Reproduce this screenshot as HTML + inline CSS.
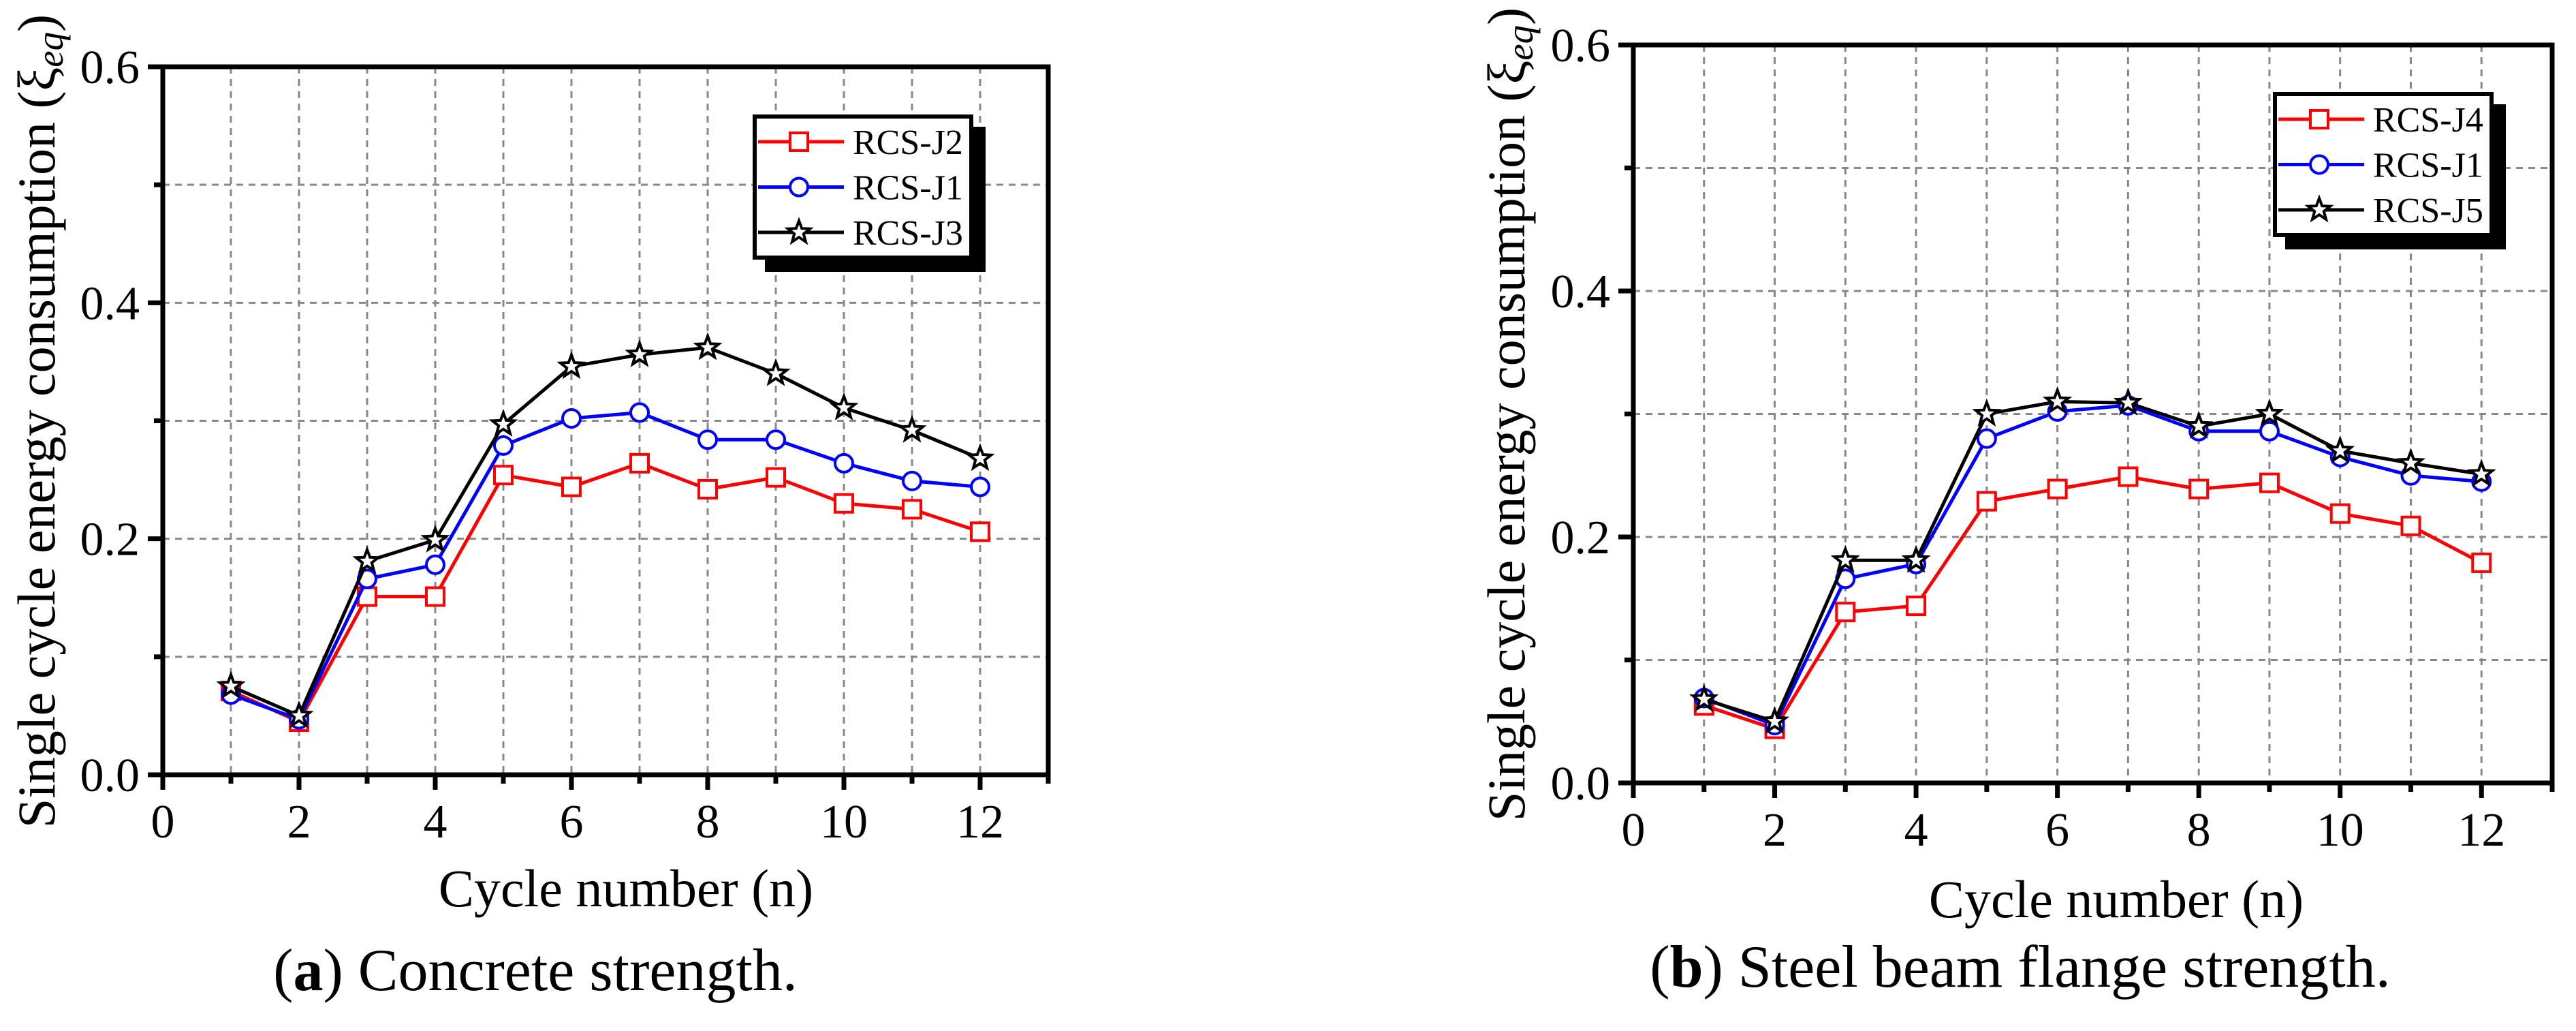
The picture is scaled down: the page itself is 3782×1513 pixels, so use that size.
<!DOCTYPE html>
<html><head><meta charset="utf-8"><style>
html,body{margin:0;padding:0;background:#fff;}
svg{display:block;}
text{font-family:"Liberation Serif",serif;fill:#000;}
</style></head>
<body>
<svg id="svg" width="3782" height="1513" viewBox="0 0 3782 1513" xmlns="http://www.w3.org/2000/svg">
<text x="786" y="1453" font-size="88" text-anchor="middle">(<tspan font-weight="bold">a</tspan>) Concrete strength.</text>
<text x="2966" y="1448" font-size="88" text-anchor="middle">(<tspan font-weight="bold">b</tspan>) Steel beam flange strength.</text>
</svg>
<script>
const cycles = [1,2,3,4,5,6,7,8,9,10,11,12];
const aJ2 = [0.071,0.045,0.151,0.151,0.254,0.244,0.264,0.242,0.252,0.230,0.225,0.206];
const aJ1 = [0.068,0.047,0.166,0.178,0.279,0.302,0.307,0.284,0.284,0.264,0.249,0.244];
const aJ3 = [0.075,0.050,0.181,0.199,0.297,0.346,0.356,0.362,0.340,0.311,0.292,0.268];
const bJ4 = [0.063,0.044,0.139,0.144,0.229,0.239,0.249,0.239,0.244,0.219,0.209,0.179];
const bJ1 = [0.069,0.047,0.166,0.178,0.280,0.302,0.307,0.286,0.286,0.265,0.250,0.245];
const bJ5 = [0.068,0.050,0.181,0.181,0.300,0.310,0.309,0.290,0.300,0.270,0.260,0.251];
const xTickLabels = ["0","2","4","6","8","10","12"];
const yTickLabels = ["0.0","0.2","0.4","0.6"];
const legendA = ["RCS-J2","RCS-J1","RCS-J3"];
const legendB = ["RCS-J4","RCS-J1","RCS-J5"];

const NS="http://www.w3.org/2000/svg";
const svg=document.getElementById('svg');
function mk(tag,attrs,parent){const e=document.createElementNS(NS,tag);for(const k in attrs)e.setAttribute(k,attrs[k]);(parent||svg).appendChild(e);return e;}
function starPath(cx,cy,R){const r=R*0.42;let d="";for(let i=0;i<10;i++){const a=-Math.PI/2+i*Math.PI/5;const rr=i%2?r:R;d+=(i?"L":"M")+(cx+rr*Math.cos(a)).toFixed(1)+","+(cy+rr*Math.sin(a)).toFixed(1);}return d+"Z";}
function marker(g,type,x,y,color){
  if(type==='sq'){const m=mk('rect',{x:x-13,y:y-13,width:26,height:26,fill:'#fff',stroke:color,'stroke-width':4},g);}
  else if(type==='ci'){const m=mk('circle',{cx:x,cy:y,r:13,fill:'#fff',stroke:color,'stroke-width':4},g);}
  else {const m=mk('path',{d:starPath(x,y,17),fill:'#fff',stroke:color,'stroke-width':4,'stroke-linejoin':'miter'},g);}
}
function chart(cfg){
  const {L,T,R,B,id}=cfg;
  const g=mk('g',{});
  
  
  const xs=v=>L+(R-L)*v/13;
  const ys=v=>B-(B-T)*v/0.6;
  for(let i=1;i<13;i++){const l=mk('line',{x1:xs(i),x2:xs(i),y1:T,y2:B,stroke:'#888','stroke-width':3,'stroke-dasharray':'10,8'},g);}
  for(let i=1;i<6;i++){const v=i*0.1;const l=mk('line',{x1:L,x2:R,y1:ys(v),y2:ys(v),stroke:'#888','stroke-width':3,'stroke-dasharray':'10,8'},g);}
  const series=cfg.series;
  series.forEach(s=>{
    const sg=mk('g',{},g);
    
    
    const pts=cycles.map((c,i)=>xs(c).toFixed(1)+','+ys(s.data[i]).toFixed(1)).join(' ');
    const pl=mk('polyline',{points:pts,fill:'none',stroke:s.color,'stroke-width':5,'stroke-linejoin':'round'},sg);
    
    
    cycles.forEach((c,i)=>marker(sg,s.m,xs(c),ys(s.data[i]),s.color));
  });
  // axes frame
  const fr=mk('rect',{x:L,y:T,width:R-L,height:B-T,fill:'none',stroke:'#000','stroke-width':7},g);
  
  
  // x ticks
  for(let i=0;i<=13;i++){const major=i%2===0;const t=mk('line',{x1:xs(i),x2:xs(i),y1:B,y2:B+(major?22:13),stroke:'#000','stroke-width':7},g);}
  xTickLabels.forEach((lab,i)=>{const t=mk('text',{x:xs(i*2),y:B+cfg.xlabDy,'font-size':70,'text-anchor':'middle'},g);t.textContent=lab;});
  for(let i=0;i<=6;i++){const major=i%2===0;const t=mk('line',{x1:L-(major?22:13),x2:L,y1:ys(i*0.1),y2:ys(i*0.1),stroke:'#000','stroke-width':7},g);}
  yTickLabels.forEach((lab,i)=>{const t=mk('text',{x:L-34,y:ys(i*0.2)+24,'font-size':70,'text-anchor':'end'},g);t.textContent=lab;});
  const xt=mk('text',{x:cfg.xtX,y:cfg.xtY,'font-size':78,'text-anchor':'middle'},g);
  xt.textContent='Cycle number (n)';
  
  
  const yt=mk('text',{x:0,y:0,'font-size':78,'text-anchor':'middle',transform:`translate(${cfg.ytX},${cfg.ytY}) rotate(-90)`},g);
  yt.innerHTML='Single cycle energy consumption (ξ<tspan font-style="italic" font-size="55" dy="12">eq</tspan><tspan dy="-12">)</tspan>';
  
  
  // legend
  const lg=mk('g',{},g);
  
  
  const lx=cfg.lx, ly=cfg.ly, lw=324, lh=213;
  mk('rect',{x:lx+18,y:ly+18,width:lw,height:lh,fill:'#000'},lg);
  mk('rect',{x:lx+3,y:ly+3,width:lw-6,height:lh-6,fill:'#fff',stroke:'#000','stroke-width':6},lg);
  series.forEach((s,i)=>{
    const ey=ly+40+i*66.5;
    const e=mk('g',{},lg);
    
    
    mk('line',{x1:lx+8,x2:lx+134,y1:ey,y2:ey,stroke:s.color,'stroke-width':5},e);
    marker(e,s.m,lx+68,ey,s.color);
    const t=mk('text',{x:lx+147,y:ey+18,'font-size':52},e);
    t.textContent=cfg.legend[i];
  });
}
chart({id:'a',L:239,T:98,R:1539,B:1137,xlabDy:92,xtX:919,xtY:1330,ytX:80,ytY:618,lx:1105,ly:168,legend:legendA,
  series:[{name:'RCS-J2',data:aJ2,color:'#ff0000',m:'sq'},{name:'RCS-J1',data:aJ1,color:'#0000ff',m:'ci'},{name:'RCS-J3',data:aJ3,color:'#000',m:'st'}]});
chart({id:'b',L:2398,T:66,R:3747,B:1149,xlabDy:92,xtX:3107,xtY:1346,ytX:2238,ytY:608,lx:3337,ly:135,legend:legendB,
  series:[{name:'RCS-J4',data:bJ4,color:'#ff0000',m:'sq'},{name:'RCS-J1',data:bJ1,color:'#0000ff',m:'ci'},{name:'RCS-J5',data:bJ5,color:'#000',m:'st'}]});
</script>
</body></html>
